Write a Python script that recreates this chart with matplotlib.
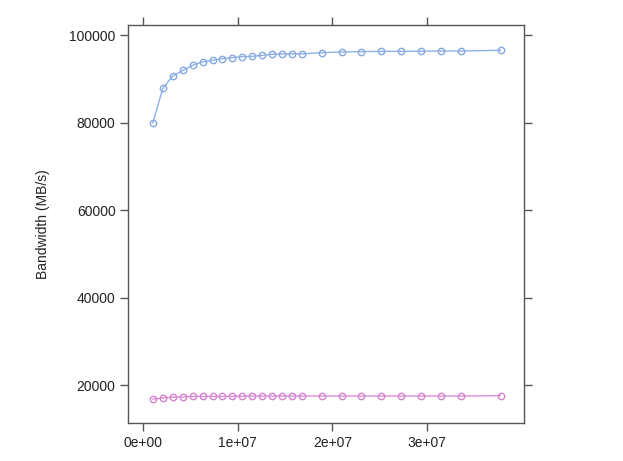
import matplotlib
matplotlib.use('Agg')
import matplotlib.pyplot as plt
import numpy as np

plt.rcParams['font.family'] = ['Liberation Sans', 'DejaVu Sans']

# array sizes, in units of 2^20 elements
size_steps = [1, 2, 3, 4, 5, 6, 7, 8, 9, 10, 11, 12, 13, 14, 15, 16,
              18, 20, 22, 24, 26, 28, 30, 32, 36]
sizes = np.array(size_steps) * 1048576

bw_fast = [79980, 87830, 90640, 91900, 93080, 93840, 94220, 94600, 94830,
           95050, 95130, 95360, 95590, 95660, 95680, 95700,
           95970, 96120, 96200, 96270, 96270, 96290, 96350, 96350, 96500]
bw_slow = [16800, 17030, 17260, 17260, 17410, 17410, 17410, 17410, 17430,
           17450, 17490, 17490, 17490, 17490, 17490, 17490,
           17500, 17500, 17500, 17500, 17500, 17500, 17500, 17500, 17560]

x_ticks = [0, 1e7, 2e7, 3e7]
x_labels = ['0e+00', '1e+07', '2e+07', '3e+07']
y_ticks = [20000, 40000, 60000, 80000, 100000]

fig = plt.figure(figsize=(6.23, 4.61), dpi=100)
ax = fig.add_axes([0.2055, 0.0824, 0.6356, 0.8633])

ax.plot(sizes, bw_fast, '-o', color='#8fb0e6', mfc='none', mec='#86a9e3',
        markersize=4.6, linewidth=1, markeredgewidth=1)
ax.plot(sizes, bw_slow, '-o', color='#dc8cd5', mfc='none', mec='#d683cf',
        markersize=4.6, linewidth=1, markeredgewidth=1)

ax.set_xlim(-1.58e6, 4.023e7)
ax.set_ylim(11324, 102280)
ax.set_xticks(x_ticks)
ax.set_xticklabels(x_labels)
ax.set_yticks(y_ticks)
ax.set_yticklabels([str(v) for v in y_ticks])

for s in ax.spines.values():
    s.set_color('#555555')
    s.set_linewidth(1)
ax.tick_params(direction='out', length=6, width=1, color='#555555',
               labelsize=10, labelcolor='#222222', pad=3,
               top=True, right=True, labeltop=False, labelright=False)

ax.set_ylabel('Bandwidth (MB/s)', fontsize=10, color='#222222', labelpad=14)

fig.savefig('out.png', dpi=100)
